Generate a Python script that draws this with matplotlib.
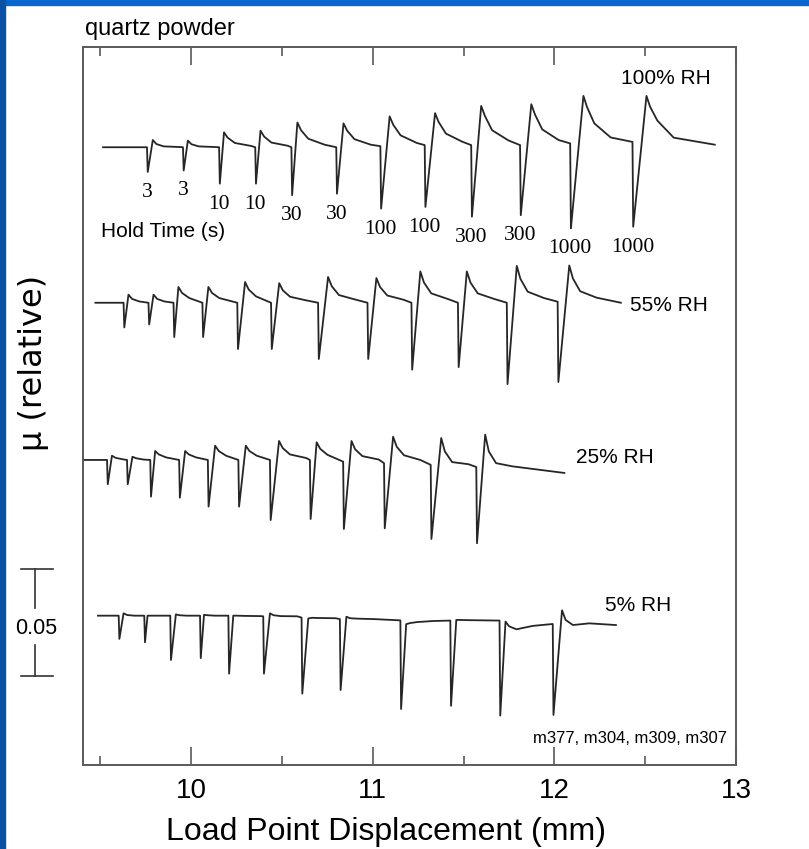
import matplotlib

matplotlib.use("Agg")
import matplotlib.pyplot as plt
import matplotlib.transforms as mtransforms
import numpy as np
from matplotlib.patches import Rectangle

plt.rcParams["font.family"] = ["Liberation Sans", "DejaVu Sans"]

# hold times (s) written under the 100% RH record
hold_times = [3, 3, 10, 10, 30, 30, 100, 100, 300, 300, 1000, 1000]

rh_labels = ["100% RH", "55% RH", "25% RH", "5% RH"]
label_x = [12.368, 12.418, 12.121, 12.280]
label_y = [0.3197, 0.2129, 0.1420, 0.0725]

# baseline friction of each record on the stacked axis
offsets = [0.290, 0.217, 0.1432, 0.0701]
start_x = [9.515, 9.473, 9.408, 9.487]
end_x = [12.883, 12.366, 12.055, 12.339]
end_mu = [0.0012, 0.0, -0.0061, -0.0044]

# distance past each peak (mm) at which the decay levels are read
decay_dx = [0.02, 0.06, 0.15]

# 100% RH (m377): hold positions (mm) and friction changes (delta mu)
hold_x_100 = [9.757, 9.955, 10.154, 10.353, 10.552, 10.799, 11.042, 11.286, 11.542, 11.811, 12.087, 12.430]
pre_100 = [0, 0, 0, 0, 0, 0, 0.0005, 0.0010, 0.0010, 0.0010, 0.0018, 0.0025]
drop_100 = [-0.0116, -0.0109, -0.0171, -0.0171, -0.0225, -0.0218, -0.0288, -0.0280, -0.0326, -0.0319, -0.0381, -0.0373]
peak_x_100 = [9.789, 9.982, 10.181, 10.382, 10.585, 10.839, 11.093, 11.343, 11.597, 11.873, 12.160, 12.507]
peak_100 = [0.0034, 0.0031, 0.0070, 0.0078, 0.0116, 0.0112, 0.0145, 0.0160, 0.0194, 0.0202, 0.0241, 0.0241]
decay1_100 = [0.0015, 0.0014, 0.0045, 0.0050, 0.0080, 0.0078, 0.0105, 0.0118, 0.0148, 0.0154, 0.0188, 0.0190]
decay2_100 = [0.0004, 0.0004, 0.0020, 0.0022, 0.0040, 0.0038, 0.0056, 0.0064, 0.0080, 0.0084, 0.0112, 0.0125]
decay3_100 = [0.0001, 0.0001, 0.0006, 0.0007, 0.0012, 0.0012, 0.0020, 0.0026, 0.0032, 0.0034, 0.0046, 0.0045]

# 55% RH (m304)
hold_x_55 = [9.628, 9.765, 9.903, 10.062, 10.254, 10.440, 10.699, 10.971, 11.213, 11.469, 11.738, 12.018]
pre_55 = [0, 0, 0, 0, 0, 0, 0, 0, 0, 0, 0, 0.0005]
drop_55 = [-0.0116, -0.0102, -0.0161, -0.0161, -0.0217, -0.0217, -0.0264, -0.0264, -0.0314, -0.0302, -0.0382, -0.0372]
peak_x_55 = [9.655, 9.793, 9.930, 10.095, 10.297, 10.485, 10.754, 11.020, 11.262, 11.518, 11.793, 12.082]
peak_55 = [0.0038, 0.0038, 0.0074, 0.0074, 0.0097, 0.0092, 0.0121, 0.0116, 0.0147, 0.0147, 0.0173, 0.0175]
decay1_55 = [0.0018, 0.0018, 0.0046, 0.0046, 0.0062, 0.0058, 0.0078, 0.0074, 0.0095, 0.0095, 0.0112, 0.0114]
decay2_55 = [0.0006, 0.0006, 0.0022, 0.0022, 0.0030, 0.0028, 0.0036, 0.0034, 0.0044, 0.0044, 0.0052, 0.0054]
decay3_55 = [0.0002, 0.0002, 0.0008, 0.0008, 0.0012, 0.0011, 0.0015, 0.0014, 0.0018, 0.0018, 0.0022, 0.0024]

# 25% RH (m309)
hold_x_25 = [9.537, 9.647, 9.775, 9.934, 10.092, 10.260, 10.434, 10.654, 10.837, 11.062, 11.319, 11.570]
pre_25 = [0, 0, 0, 0, 0, 0, 0, 0, -0.0008, -0.0015, -0.0023, -0.0033]
drop_25 = [-0.0114, -0.0114, -0.0172, -0.0177, -0.0219, -0.0219, -0.0282, -0.0277, -0.0324, -0.0321, -0.0371, -0.0391]
peak_x_25 = [9.564, 9.677, 9.802, 9.967, 10.132, 10.301, 10.484, 10.691, 10.883, 11.112, 11.377, 11.619]
peak_25 = [0.0020, 0.0015, 0.0042, 0.0042, 0.0067, 0.0067, 0.0089, 0.0083, 0.0089, 0.0109, 0.0103, 0.0119]
decay1_25 = [0.0010, 0.0008, 0.0026, 0.0026, 0.0042, 0.0042, 0.0056, 0.0052, 0.0050, 0.0062, 0.0040, 0.0040]
decay2_25 = [0.0003, 0.0002, 0.0012, 0.0012, 0.0020, 0.0020, 0.0026, 0.0024, 0.0018, 0.0022, -0.0010, -0.0015]
decay3_25 = [0.0001, 0.0001, 0.0004, 0.0004, 0.0007, 0.0007, 0.0009, 0.0008, 0.0002, 0.0000, -0.0020, -0.0030]

# 5% RH (m307)
hold_x_5 = [9.601, 9.742, 9.885, 10.049, 10.205, 10.397, 10.608, 10.819, 11.152, 11.427, 11.698, 11.991]
pre_5 = [0, 0, 0, 0, 0, -0.0003, -0.0009, -0.0016, -0.0022, -0.0023, -0.0023, -0.0039]
drop_5 = [-0.0109, -0.0125, -0.0208, -0.0199, -0.0272, -0.0272, -0.0366, -0.0349, -0.0438, -0.0423, -0.0469, -0.0466]
peak_x_5 = [9.628, 9.760, 9.916, 10.071, 10.232, 10.434, 10.645, 10.855, 11.184, 11.460, 11.731, 12.042]
peak_5 = [0.0011, 0.0000, 0.0006, 0.0004, 0.0000, 0.0011, -0.0013, -0.0005, -0.0040, -0.0020, -0.0028, 0.0025]
decay1_5 = [0.0003, 0.0000, 0.0002, 0.0002, 0.0000, 0.0002, -0.0010, -0.0012, -0.0035, -0.0020, -0.0050, -0.0020]
decay2_5 = [0.0000, 0.0000, 0.0000, 0.0000, -0.0001, -0.0002, -0.0011, -0.0014, -0.0030, -0.0021, -0.0064, -0.0044]
decay3_5 = [0.0000, 0.0000, 0.0000, 0.0000, -0.0002, -0.0003, -0.0012, -0.0016, -0.0025, -0.0022, -0.0048, -0.0036]

records = [
    (hold_x_100, pre_100, drop_100, peak_x_100, peak_100, (decay1_100, decay2_100, decay3_100)),
    (hold_x_55, pre_55, drop_55, peak_x_55, peak_55, (decay1_55, decay2_55, decay3_55)),
    (hold_x_25, pre_25, drop_25, peak_x_25, peak_25, (decay1_25, decay2_25, decay3_25)),
    (hold_x_5, pre_5, drop_5, peak_x_5, peak_5, (decay1_5, decay2_5, decay3_5)),
]

LINE = "#262626"
FRAME = "#5a5a5a"


def build_trace(x0, hold_x, pre, drop, peak_x, peak, decays, x1, y1):
    """Join the hold / reload / decay points of one slide-hold-slide record."""
    xs, ys = [x0], [pre[0]]
    n = len(hold_x)
    for i in range(n):
        xs += [hold_x[i], hold_x[i] + 0.004, peak_x[i]]
        ys += [pre[i], drop[i], peak[i]]
        nxt = hold_x[i + 1] if i + 1 < n else x1
        for dx, lev in zip(decay_dx, decays):
            if peak_x[i] + dx < nxt - 0.01:
                xs.append(peak_x[i] + dx)
                ys.append(lev[i])
    xs.append(x1)
    ys.append(y1)
    return np.array(xs), np.array(ys)


fig = plt.figure(figsize=(8.09, 8.49), dpi=100)
fig.patch.set_facecolor("white")
fig.patches.append(Rectangle((0, 1 - 5 / 849), 1, 5 / 849, transform=fig.transFigure,
                             color="#0866cc", zorder=0))
fig.patches.append(Rectangle((0, 0), 5 / 809, 1, transform=fig.transFigure,
                             color="#0a52a6", zorder=0))

ax = fig.add_axes([82.7 / 809, 1 - 765 / 849, 653.3 / 809, 718.3 / 849])
ax.set_xlim(9.403, 12.996)
ax.set_ylim(0, 0.3372)

for k, rec in enumerate(records):
    xs, ys = build_trace(start_x[k], *rec, end_x[k], end_mu[k])
    ax.plot(xs, ys + offsets[k], color=LINE, linewidth=1.3, solid_joinstyle="round")
    ax.text(label_x[k], label_y[k], rh_labels[k], fontsize=15, va="baseline", ha="left")

# hold time under each hold of the top record
for hx, dm, ht in zip(hold_x_100, drop_100, hold_times):
    ax.annotate(str(ht), (hx, dm + offsets[0]), xytext=(0, -18), textcoords="offset points",
                ha="center", va="baseline", fontsize=15.5, family=["Liberation Serif", "DejaVu Serif"])

ax.text(9.505, 0.2479, "Hold Time (s)", fontsize=15, va="baseline", ha="left")
ax.text(12.951, 0.0102, "m377, m304, m309, m307", fontsize=12, va="baseline", ha="right")

# axis frame and ticks
for sp in ax.spines.values():
    sp.set_color(FRAME)
    sp.set_linewidth(1.4)
ax.set_xticks([10, 11, 12, 13])
ax.set_xticks([9.5, 10.5, 11.5, 12.5], minor=True)
ax.tick_params(axis="x", which="both", direction="in", top=True, color=FRAME, width=1.2,
               labelsize=20, pad=9)
ax.tick_params(axis="x", which="major", length=13)
ax.tick_params(axis="x", which="minor", length=6.5)
ax.set_yticks([])

# 0.05 friction scale bar left of the frame
bar = mtransforms.blended_transform_factory(ax.transAxes, ax.transData)
for y0, y1 in ((0.0418, 0.0563), (0.0737, 0.0918)):
    ax.plot([-0.073, -0.073], [y0, y1], color="#333333", lw=1.2, transform=bar, clip_on=False)
for yc in (0.0418, 0.0918):
    ax.plot([-0.0949, -0.0459], [yc, yc], color="#333333", lw=1.2, transform=bar, clip_on=False)
ax.text(-0.0715, 0.0643, "0.05", transform=bar, fontsize=15.5, ha="center", va="center")

ax.text(-0.075, 0.1887, "\u03bc (relative)", transform=bar, rotation=90, fontsize=23,
        ha="center", va="center", family=["DejaVu Sans"])

fig.text(385.5 / 809, 1 - 840 / 849, "Load Point Displacement (mm)", fontsize=23,
         ha="center", va="baseline")
fig.text(85 / 809, 1 - 35 / 849, "quartz powder", fontsize=17, ha="left", va="baseline")

fig.savefig("out.png", dpi=100)
